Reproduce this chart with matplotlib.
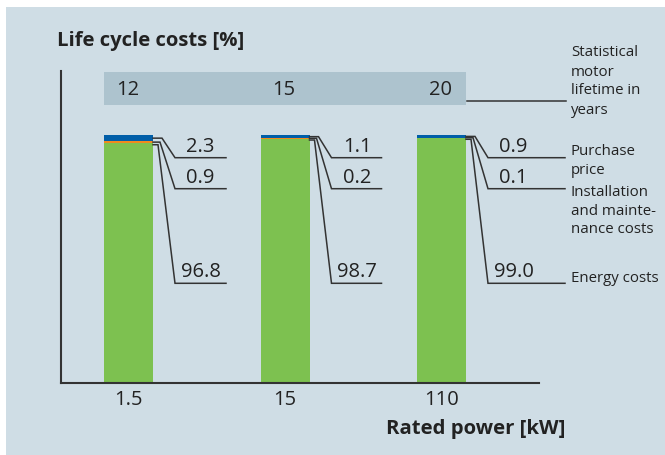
import matplotlib
matplotlib.use("Agg")
import matplotlib.pyplot as plt
from matplotlib.patches import Rectangle
import numpy as np

# ---- data ----
power_labels = ["1.5", "15", "110"]          # rated power [kW]
lifetime_years = [12, 15, 20]                 # statistical motor lifetime
energy_costs = [96.8, 98.7, 99.0]             # %
install_costs = [0.9, 0.2, 0.1]               # %
purchase_costs = [2.3, 1.1, 0.9]              # %

legend_purchase = ["Purchase", "price"]
legend_install = ["Installation", "and mainte-", "nance costs"]
legend_energy = ["Energy costs"]
legend_lifetime = ["Statistical", "motor", "lifetime in", "years"]

# ---- style ----
W, H = 665, 455
BG = "#cfdde5"
BAND = "#adc3ce"
GREEN = "#7dc150"
ORANGE = "#f08a1e"
BLUE = "#005ea8"
TXT = "#222222"
AX = "#333333"
plt.rcParams["font.family"] = ["Open Sans", "DejaVu Sans"]

fig = plt.figure(figsize=(W / 100, H / 100), dpi=100)
fig.patch.set_facecolor("white")
fig.add_artist(Rectangle((6 / W, 0), 1 - 6 / W, 1 - 7 / H, transform=fig.transFigure,
                         facecolor=BG, edgecolor="none", zorder=0))

# axes in pixel placement
ax_l, ax_r, ax_b, ax_t = 61, 539, 383.3, 71
ax = fig.add_axes([ax_l / W, 1 - ax_b / H, (ax_r - ax_l) / W, (ax_b - ax_t) / H])
ax.set_facecolor("none")

PPX = 156.5          # pixels per x unit
PPY = 2.48           # pixels per %
x0_px = 128.5
xl = ((ax_l - x0_px) / PPX, (ax_r - x0_px) / PPX)
yl = (0, (ax_b - ax_t) / PPY)
ax.set_xlim(*xl)
ax.set_ylim(*yl)

def dx(px):
    return px / PPX

def ypx(py):
    # pixel row -> data y
    return (ax_b - py) / PPY

x = np.arange(len(power_labels))
bw = dx(49)
e = np.array(energy_costs)
i_ = np.array(install_costs)
p = np.array(purchase_costs)
ax.bar(x, e, bw, color=GREEN, linewidth=0, zorder=2)
ax.bar(x, i_, bw, bottom=e, color=ORANGE, linewidth=0, zorder=2)
ax.bar(x, p, bw, bottom=e + i_, color=BLUE, linewidth=0, zorder=2)

# lifetime band
band_lo, band_hi = ypx(105), ypx(72)
ax.add_patch(Rectangle((x[0] - bw / 2, band_lo), (x[-1] - x[0]) + bw, band_hi - band_lo,
                       facecolor=BAND, edgecolor="none", zorder=1, clip_on=False))
for xi, yr in zip(x, lifetime_years):
    ax.text(xi - dx(1), ypx(90), str(yr), ha="center", va="center", fontsize=14.5,
            color=TXT, zorder=3)
ax.plot([x[-1] + bw / 2 + dx(1), x[-1] + bw / 2 + dx(100)], [ypx(101)] * 2,
        color=AX, lw=1.1, clip_on=False, zorder=3)

# leader lines + value labels
label_rows = [157.7, 188.7, 283.3]   # pixel rows of label lines (purchase, install, energy)
end_len = [73, 72, 99]
for k, xi in enumerate(x):
    right = xi + bw / 2
    starts = [e[k] + i_[k] + p[k] / 2, e[k] + i_[k] / 2, e[k] - 0.6]
    stubs = [9, 7, 5]
    vals = [p[k], i_[k], e[k]]
    for s, st, row, v in zip(starts, stubs, label_rows, vals):
        xs = [right, right + dx(st), right + dx(22), right + dx(end_len[k])]
        ys = [s, s, ypx(row), ypx(row)]
        ax.plot(xs, ys, color=AX, lw=1.1, clip_on=False, zorder=3, solid_joinstyle="miter")
        ax.text(right + dx((22 + 73) / 2), ypx(row - 6), f"{v:.1f}", ha="center",
                va="baseline", fontsize=14.5, color=TXT, zorder=3)

# spines / ticks
for sp in ["top", "right"]:
    ax.spines[sp].set_visible(False)
for sp in ["left", "bottom"]:
    ax.spines[sp].set_color(AX)
    ax.spines[sp].set_linewidth(1.5)
ax.set_yticks([])
ax.set_xticks(x)
ax.set_xticklabels(power_labels, fontsize=14.5, color=TXT)
ax.tick_params(axis="x", length=0, pad=5)

# figure-level texts (pixel placement)
def ftext(px, py, s, **kw):
    fig.text(px / W, 1 - py / H, s, **kw)

ftext(57, 41, "Life cycle costs [%]", fontsize=14.6, fontweight="bold", color=TXT,
      ha="left", va="center")
ftext(386, 429, "Rated power [kW]", fontsize=14.6, fontweight="bold", color=TXT,
      ha="left", va="center")

def block(lines, px, first_center, spacing):
    for n, ln in enumerate(lines):
        ftext(px, first_center + n * spacing, ln, fontsize=10.8, color=TXT,
              ha="left", va="center")

block(legend_lifetime, 571, 53, 19)
block(legend_purchase, 571, 152, 18)
block(legend_install, 571, 192.7, 18.5)
block(legend_energy, 571, 278, 18)

fig.savefig("out.png", dpi=100, facecolor="white")
